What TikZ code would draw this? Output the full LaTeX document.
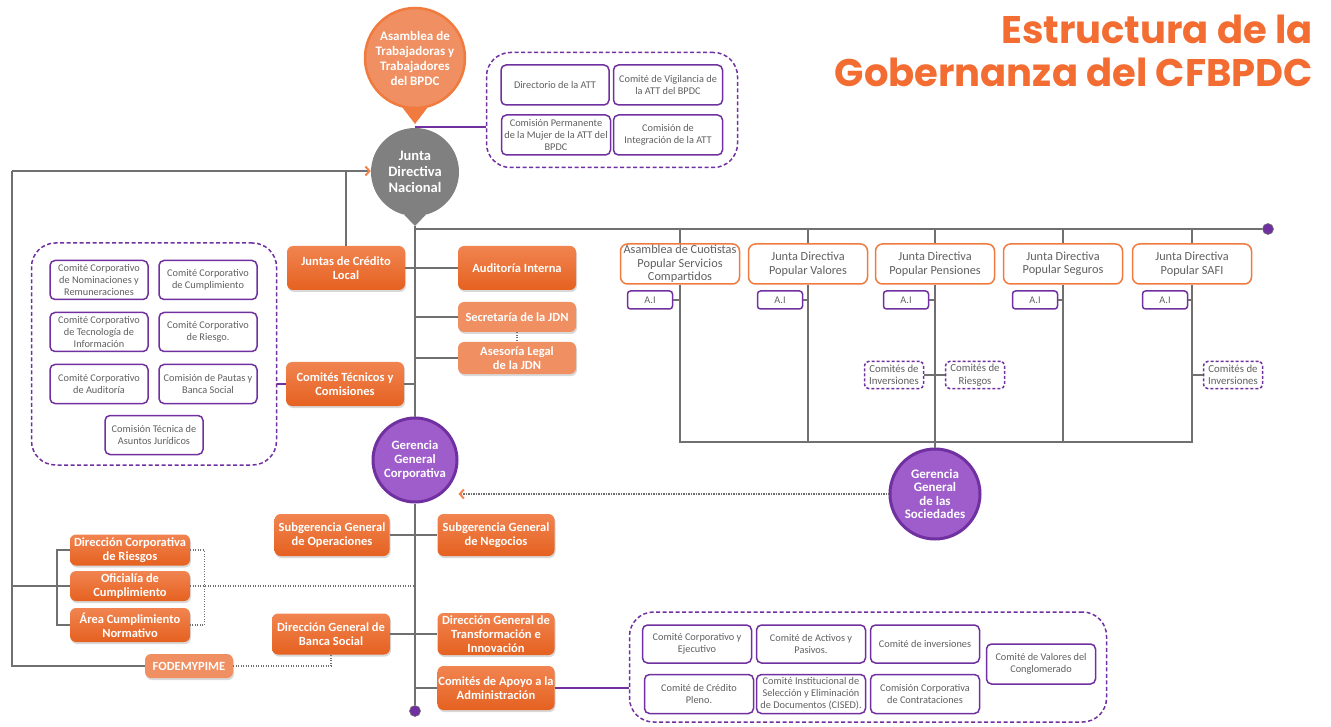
\documentclass[tikz,border=0pt]{standalone}
\usepackage{fontspec}
\setmainfont{Carlito}
\newfontfamily\titlefont{Poppins}
\usetikzlibrary{positioning, shadows, arrows.meta}

\definecolor{naranja}{RGB}{241,132,80}
\definecolor{naranjaosc}{RGB}{229,97,32}
\definecolor{naranjaclaro}{RGB}{239,143,98}
\definecolor{naranjaborde}{RGB}{241,122,62}
\definecolor{morado}{RGB}{112,48,160}
\definecolor{moradoclaro}{RGB}{158,93,203}
\definecolor{gris}{RGB}{112,112,112}
\definecolor{grisjdn}{RGB}{128,128,128}
\definecolor{texto}{RGB}{96,96,96}
\definecolor{titulo}{RGB}{243,108,50}

\begin{document}
\begin{tikzpicture}[x=1pt, y=-1pt,
    link/.style={draw=gris, line width=1.3pt},
    plink/.style={draw=morado, line width=1.3pt},
    dots/.style={draw=gris, line width=1.3pt, dash pattern=on 1.2pt off 1.3pt},
    punta/.tip={Straight Barb[color=naranja, length=4pt, width=9pt, line width=2pt]},
    obox/.style={rounded corners=6pt, top color=naranja, bottom color=naranjaosc, text=white, align=center, inner sep=1pt, minimum width=118pt, minimum height=44pt, font=\fontsize{12.5}{14}\selectfont\bfseries, drop shadow={shadow xshift=1pt, shadow yshift=-2pt, opacity=0.3}},
    lbox/.style={obox, top color=naranjaclaro, bottom color=naranjaclaro},
    pbox/.style={draw=morado, line width=1.5pt, rounded corners=5pt, fill=white, text=texto, align=center, inner sep=1pt, minimum width=98pt, minimum height=39pt, font=\fontsize{10.3}{12}\selectfont},
    wbox/.style={draw=naranjaborde, line width=1.5pt, rounded corners=7pt, fill=white, text=texto, align=center, inner sep=1pt, minimum width=119pt, minimum height=40pt, font=\fontsize{12.3}{13.5}\selectfont},
    aibox/.style={pbox, minimum width=45pt, minimum height=18pt, rounded corners=3pt},
    dbox/.style={pbox, dash pattern=on 3pt off 2pt, rounded corners=4pt, minimum width=59pt, minimum height=27pt, font=\fontsize{10.8}{12.5}\selectfont},
    cont/.style={draw=morado, line width=1.5pt, dash pattern=on 4pt off 2.5pt, rounded corners=24pt},
    bubble/.style={circle, align=center, text=white, inner sep=0pt},
    dot/.style={circle, fill=morado, draw=gris, line width=0.6pt, minimum size=11pt, inner sep=0pt}
  ]
  \useasboundingbox (0,0) rectangle (1331,727);

  \node[anchor=north east, inner sep=0pt, align=right, text=titulo, font=\titlefont\bfseries\fontsize{38.5}{43}\selectfont] (TIT) at (1313,15) {Estructura de la\\Gobernanza del CFBPDC};

  \node[bubble, fill=naranjaclaro, draw=naranjaborde, line width=2.5pt, minimum size=100pt, font=\fontsize{13}{15}\selectfont\bfseries] (ATA) at (415,58) {Asamblea de\\Trabajadoras y\\Trabajadores\\del BPDC};
  \node[bubble, fill=grisjdn, minimum size=88pt, font=\fontsize{14.5}{16}\selectfont\bfseries] (JDN) at (415,172) {Junta\\Directiva\\Nacional};
  \node[bubble, fill=moradoclaro, draw=morado, line width=3pt, minimum size=84pt, font=\fontsize{12.7}{14}\selectfont\bfseries] (GGC) at (415,460) {Gerencia\\General\\Corporativa};
  \node[bubble, fill=moradoclaro, draw=morado, line width=3pt, minimum size=90pt, font=\fontsize{13}{13.4}\selectfont\bfseries] (GGS) at (935,494) {Gerencia\\General\\de las\\Sociedades};

  \coordinate (atttip) at (415,124);
  \coordinate (jdntip) at (415,226);
  \fill[naranjaborde] (ATA.-104) -- (atttip) -- (ATA.-76) -- cycle;
  \fill[grisjdn] (JDN.-104) -- (jdntip) -- (JDN.-76) -- cycle;

  \node[cont, minimum width=251pt, minimum height=115pt] (ATT)  at (612,110) {};
  \node[pbox, minimum width=108pt, minimum height=40pt]  (DATT)  at (555,85)  {Directorio de la ATT};
  \node[pbox, minimum width=109pt, minimum height=40pt]  (CVATT) at (668,85)  {Comité de Vigilancia de\\la ATT del BPDC};
  \node[pbox, minimum width=109pt, minimum height=40pt]  (CPM)   at (556,135) {Comisión Permanente\\de la Mujer de la ATT del\\BPDC};
  \node[pbox, minimum width=109pt, minimum height=40pt]  (CIATT) at (668,135) {Comisión de\\Integración de la ATT};

  \node[cont, minimum width=245pt, minimum height=222pt] (CIZQ) at (154,354) {};
  \node[pbox]  (CCNR) at (99,280)  {Comité Corporativo\\de Nominaciones y\\Remuneraciones};
  \node[pbox]  (CCC)  at (208,280) {Comité Corporativo\\de Cumplimiento};
  \node[pbox]  (CCTI) at (99,332)  {Comité Corporativo\\de Tecnología de\\Información};
  \node[pbox]  (CCR)  at (208,332) {Comité Corporativo\\de Riesgo.};
  \node[pbox]  (CCA)  at (99,384)  {Comité Corporativo\\de Auditoría};
  \node[pbox]  (CPBS) at (208,384) {Comisión de Pautas y\\Banca Social};
  \node[pbox]  (CTAJ) at (154,435) {Comisión Técnica de\\Asuntos Jurídicos};

  \node[obox]  (JCL)   at (346,268) {Juntas de Crédito\\Local};
  \node[obox]  (AUI)   at (517,268) {Auditoría Interna};
  \node[lbox, minimum height=30pt]  (SJDN)  at (517,317) {Secretaría de la JDN};
  \node[lbox, minimum height=32pt]  (ALJDN) at (517,358) {Asesoría Legal\\de la JDN};
  \node[obox]  (CTC)   at (345,384) {Comités Técnicos y\\Comisiones};
  \node[obox, minimum width=115pt, minimum height=42pt]  (SGO)  at (332,535) {Subgerencia General\\de Operaciones};
  \node[obox, minimum width=117pt, minimum height=42pt]  (SGN)  at (496,535) {Subgerencia General\\de Negocios};
  \node[obox, minimum height=41pt]  (DGBS) at (331,634) {Dirección General de\\Banca Social};
  \node[obox, minimum width=117pt, minimum height=42pt]  (DGTI) at (496,634) {Dirección General de\\Transformación e\\Innovación};
  \node[obox, minimum width=117pt]  (CAA)  at (496,688) {Comités de Apoyo a la\\Administración};
  \node[obox, minimum width=120pt, minimum height=31pt]  (DCR)  at (130,550) {Dirección Corporativa\\de Riesgos};
  \node[obox, minimum width=120pt, minimum height=30pt]  (OC)   at (130,586) {Oficialía de\\Cumplimiento};
  \node[obox, minimum width=120pt, minimum height=34pt]  (ACN)  at (130,625) {Área Cumplimiento\\Normativo};
  \node[lbox, minimum width=88pt, minimum height=24pt]   (FOD)  at (189,666) {FODEMYPIME};

  \node[wbox]  (ACS)    at (680,264)  {Asamblea de Cuotistas\\Popular Servicios\\Compartidos};
  \node[wbox]  (JPV)    at (808,264)  {Junta Directiva\\Popular Valores};
  \node[wbox]  (JPP)    at (935,264)  {Junta Directiva\\Popular Pensiones};
  \node[wbox]  (JPS)    at (1063,264) {Junta Directiva\\Popular Seguros};
  \node[wbox]  (JPSAFI) at (1192,264) {Junta Directiva\\Popular SAFI};

  \node[aibox] (AI1) at (650,300)  {A.I};
  \node[aibox] (AI2) at (780,300)  {A.I};
  \node[aibox] (AI3) at (906,300)  {A.I};
  \node[aibox] (AI4) at (1035,300) {A.I};
  \node[aibox] (AI5) at (1165,300) {A.I};

  \node[dbox]  (CI1) at (894,375)  {Comités de\\Inversiones};
  \node[dbox]  (CR1) at (975,375)  {Comités de\\Riesgos};
  \node[dbox]  (CI2) at (1233,375) {Comités de\\Inversiones};

  \node[cont, minimum width=477pt, minimum height=110pt] (CINF) at (868,667) {};
  \node[pbox, minimum width=109pt, minimum height=38pt]  (CCE)   at (697,644)  {Comité Corporativo y\\Ejecutivo};
  \node[pbox, minimum width=109pt, minimum height=38pt]  (CAP)   at (811,644)  {Comité de Activos y\\Pasivos.};
  \node[pbox, minimum width=109pt, minimum height=38pt]  (CINV)  at (925,644)  {Comité de inversiones};
  \node[pbox, minimum width=109pt, minimum height=40pt]  (CVC)   at (1041,664) {Comité de Valores del\\Conglomerado};
  \node[pbox, minimum width=109pt, minimum height=39pt]  (CCP)   at (699,694)  {Comité de Crédito\\Pleno.};
  \node[pbox, minimum width=109pt, minimum height=39pt]  (CISED) at (811,694)  {Comité Institucional de\\Selección y Eliminación\\de Documentos (CISED).};
  \node[pbox, minimum width=109pt, minimum height=39pt]  (CCCO)  at (925,694)  {Comisión Corporativa\\de Contrataciones};

  \node[dot] (dotR) at (1268,229) {};
  \node[dot] (dotB) at (415,711) {};

  \coordinate (attjoin) at (415,127);
  \coordinate (L0) at (12,171);
  \coordinate (bk) at (57,586);
  \coordinate (barra) at (680,442);

  \draw[plink] (attjoin) -- (attjoin -| ATT.west);

  \draw[link, -punta] (L0) -- (L0 -| JDN.west);
  \draw[link] (L0) -- (L0 |- FOD.west) -- (FOD.west);
  \draw[link] (JCL.north) -- (JCL.north |- L0);
  \draw[link] (L0 |- OC.west) -- (OC.west);
  \draw[link] (DCR.west) -- (DCR.west -| bk) -- (ACN.west -| bk) -- (ACN.west);
  \draw[dots] (DCR.east) -- ++(14,0) |- (ACN.east);
  \draw[dots] (OC.east) -- (OC.east -| jdntip);
  \draw[dots] (FOD.east) -| (DGBS.south);

  \draw[link] (jdntip) -- (GGC.north);
  \draw[link] (GGC.south) -- (dotB.north);
  \draw[link] (jdntip |- dotR) -- (dotR.west);
  \draw[link] (JCL.east) -- (AUI.west);
  \draw[link] (SJDN.west) -- (SJDN.west -| jdntip);
  \draw[link] (ALJDN.west) -- (ALJDN.west -| jdntip);
  \draw[dots] (SJDN.south) -- (ALJDN.north);
  \draw[link] (CTC.east) -- (CTC.east -| jdntip);
  \draw[plink] (CTC.west) -- (CTC.west -| CIZQ.east);
  \draw[link] (SGO.east) -- (SGN.west);
  \draw[link] (DGBS.east) -- (DGTI.west);
  \draw[link] (CAA.west) -- (CAA.west -| jdntip);
  \draw[plink] (CAA.east) -- (CAA.east -| CINF.west);
  \draw[dots, punta-] (GGC.east |- GGS.west) -- (GGS.west);

  \draw[link] (ACS.north |- dotR) -- (ACS.north);
  \draw[link] (JPV.north |- dotR) -- (JPV.north);
  \draw[link] (JPP.north |- dotR) -- (JPP.north);
  \draw[link] (JPS.north |- dotR) -- (JPS.north);
  \draw[link] (JPSAFI.north |- dotR) -- (JPSAFI.north);
  \draw[link] (ACS.south) -- (ACS.south |- barra) -- (JPSAFI.south |- barra) -- (JPSAFI.south);
  \draw[link] (JPV.south) -- (JPV.south |- barra);
  \draw[link] (JPP.south) -- (GGS.north);
  \draw[link] (JPS.south) -- (JPS.south |- barra);

  \draw[link] (AI1.east) -- (AI1.east -| ACS.south);
  \draw[link] (AI2.east) -- (AI2.east -| JPV.south);
  \draw[link] (AI3.east) -- (AI3.east -| JPP.south);
  \draw[link] (AI4.east) -- (AI4.east -| JPS.south);
  \draw[link] (AI5.east) -- (AI5.east -| JPSAFI.south);
  \draw[link] (CI1.east) -- (CR1.west);
  \draw[link] (CI2.west) -- (CI2.west -| JPSAFI.south);
\end{tikzpicture}
\end{document}
